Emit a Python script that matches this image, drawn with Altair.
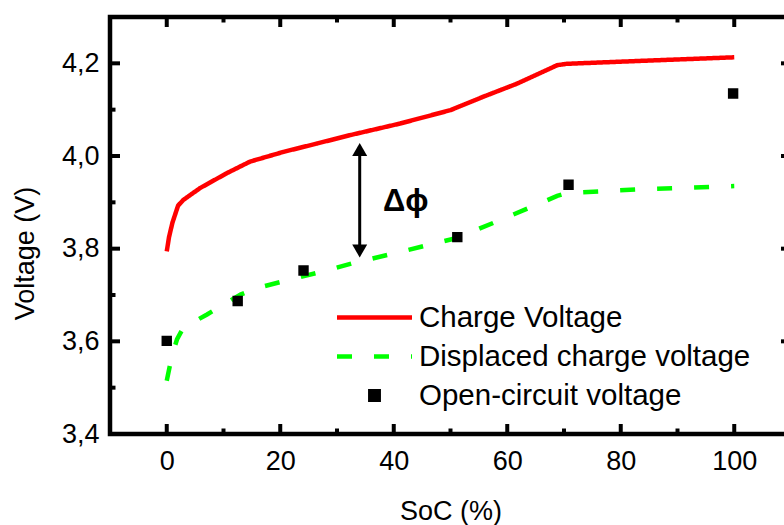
import altair as alt
import pandas as pd

# ---- data ----
charge_soc = [0, 0.4, 1.0, 2.0, 2.9, 5.9, 10.6, 14.7, 20.6, 26.5, 32.3, 41.1, 50.0, 55.8, 61.7, 68.8, 70.5, 85.0, 100.0]
charge_v = [3.794, 3.825, 3.856, 3.893, 3.905, 3.931, 3.963, 3.988, 4.009, 4.027, 4.045, 4.070, 4.099, 4.128, 4.156, 4.196, 4.199, 4.206, 4.213]

disp_soc = [0, 0.9, 1.8, 2.9, 7.1, 13.0, 15.9, 20.0, 28.8, 32.9, 41.1, 51.1, 58.8, 65.8, 68.8, 70.5, 85.0, 100.0]
disp_v = [3.515, 3.568, 3.604, 3.629, 3.658, 3.701, 3.715, 3.728, 3.755, 3.769, 3.793, 3.823, 3.862, 3.898, 3.914, 3.920, 3.929, 3.935]

ocv_soc = [0, 12.5, 24.1, 51.2, 70.8, 99.8]
ocv_v = [3.601, 3.687, 3.753, 3.825, 3.938, 4.135]

series = ["Charge Voltage", "Displaced charge voltage", "Open-circuit voltage"]
colors = ["#ff0000", "#00ff00", "#000000"]

x_ticks = [0, 20, 40, 60, 80, 100]
x_minor = [10, 30, 50, 70, 90]
y_ticks = [3.4, 3.6, 3.8, 4.0, 4.2]
y_minor = [3.5, 3.7, 3.9, 4.1]

arrow_x = 34
arrow_top = 4.028
arrow_bottom = 3.781
label_text = "Δϕ"
label_x = 38.1
label_y = 3.881

# ---- tables ----
lines = pd.concat([
    pd.DataFrame({"x": charge_soc, "y": charge_v, "s": series[0]}),
    pd.DataFrame({"x": disp_soc, "y": disp_v, "s": series[1]}),
])
ocv = pd.DataFrame({"x": ocv_soc, "y": ocv_v, "s": series[2]})

W, H = 681, 417
FONT = "Liberation Sans"

xs = alt.Scale(domain=[-10, 110], nice=False, zero=False)
ys = alt.Scale(domain=[3.4, 4.3], nice=False, zero=False)

X = alt.X("x:Q", scale=xs, axis=alt.Axis(
    values=x_ticks, title="SoC (%)", grid=False, ticks=False, tickSize=0, domain=False,
    labelFontSize=27, labelFont=FONT, labelColor="black", labelPadding=14,
    titleFontSize=27, titleFont=FONT, titleColor="black", titleFontWeight="normal",
    titleBaseline="alphabetic", titleY=85))
Y = alt.Y("y:Q", scale=ys, axis=alt.Axis(
    values=y_ticks, title="Voltage (V)", grid=False, ticks=False, tickSize=0, domain=False,
    labelExpr="replace(format(datum.value, '.1f'), '.', ',')",
    labelFontSize=27, labelFont=FONT, labelColor="black", labelPadding=11,
    titleFontSize=27, titleFont=FONT, titleColor="black", titleFontWeight="normal",
    titleAngle=-90, titleBaseline="alphabetic", titleAlign="center", titleX=-76.5, titleY=236))

color = alt.Color("s:N", scale=alt.Scale(domain=series, range=colors),
                  legend=alt.Legend(orient="none", legendX=247, legendY=283, title=None,
                                    labelFontSize=29.5, labelFont=FONT, labelColor="black",
                                    labelLimit=0, symbolSize=900, symbolStrokeWidth=4.5,
                                    labelOffset=27, rowPadding=7, padding=0,
                                    symbolFillColor="black"))
dash = alt.StrokeDash("s:N", scale=alt.Scale(domain=series, range=[[1, 0], [15, 22], [1, 0]]))
shape = alt.Shape("s:N", scale=alt.Scale(domain=series, range=[
    "M-2.5,0H2.5", "M-2.5,0H2.5", "M-0.28,-0.28H0.28V0.28H-0.28Z"]))

line_layer = alt.Chart(lines).mark_line(strokeWidth=4.5, strokeCap="butt").encode(
    x=X, y=Y, color=color, strokeDash=dash, detail="s:N")
point_layer = alt.Chart(ocv).mark_point(filled=True, size=900, opacity=1, stroke="black",
                                        strokeWidth=2, strokeJoin="miter").encode(
    x=X, y=Y, color=color, shape=shape)

arrow_df = pd.DataFrame({"x": [arrow_x], "y": [arrow_top - 0.02], "y2": [arrow_bottom + 0.02]})
shaft = alt.Chart(arrow_df).mark_rule(strokeWidth=3, color="black").encode(x=X, y=Y, y2="y2:Q")
heads_up = alt.Chart(pd.DataFrame({"x": [arrow_x], "y": [arrow_top]})).mark_point(
    filled=True, color="black", size=225, opacity=1, shape="M0,0L-1,1.73L1,1.73Z").encode(x=X, y=Y)
heads_dn = alt.Chart(pd.DataFrame({"x": [arrow_x], "y": [arrow_bottom]})).mark_point(
    filled=True, color="black", size=225, opacity=1, shape="M0,0L-1,-1.73L1,-1.73Z").encode(x=X, y=Y)
label = alt.Chart(pd.DataFrame({"x": [label_x], "y": [label_y], "t": [label_text]})).mark_text(
    fontSize=31, fontWeight="bold", font=FONT, align="left", baseline="alphabetic", color="black").encode(
    x=X, y=Y, text="t:N")

# inward ticks on all four sides
xt = pd.DataFrame({"x": x_ticks})
xm = pd.DataFrame({"x": x_minor})
yt = pd.DataFrame({"y": y_ticks[1:]})
ym = pd.DataFrame({"y": y_minor})
tk = dict(color="black", strokeWidth=4, strokeCap="butt")
ticks = [
    alt.Chart(xt).mark_rule(**tk).encode(x=X, y=alt.value(H), y2=alt.value(H - 10)),
    alt.Chart(xm).mark_rule(**tk).encode(x=X, y=alt.value(H), y2=alt.value(H - 5.5)),
    alt.Chart(xt).mark_rule(**tk).encode(x=X, y=alt.value(0), y2=alt.value(10)),
    alt.Chart(xm).mark_rule(**tk).encode(x=X, y=alt.value(0), y2=alt.value(5.5)),
    alt.Chart(yt).mark_rule(**tk).encode(y=Y, x=alt.value(0), x2=alt.value(10)),
    alt.Chart(ym).mark_rule(**tk).encode(y=Y, x=alt.value(0), x2=alt.value(5.5)),
    alt.Chart(yt).mark_rule(**tk).encode(y=Y, x=alt.value(W), x2=alt.value(W - 10)),
    alt.Chart(ym).mark_rule(**tk).encode(y=Y, x=alt.value(W), x2=alt.value(W - 5.5)),
]

chart = alt.layer(line_layer, point_layer, shaft, heads_up, heads_dn, label, *ticks).properties(
    width=W, height=H,
    autosize=alt.AutoSizeParams(type="none"),
    padding={"left": 110, "top": 17, "right": -7, "bottom": 91},
    background="white",
).configure_view(stroke="black", strokeWidth=4.5)

chart.save("out.html", embed_options={"renderer": "svg", "actions": False})
